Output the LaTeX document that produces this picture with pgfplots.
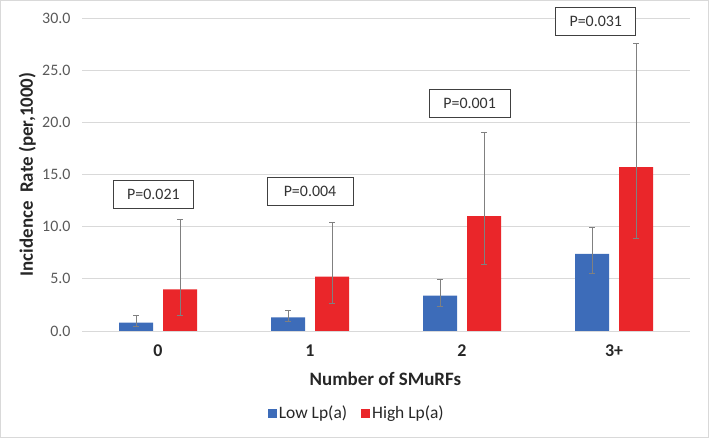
\documentclass[border=0pt]{standalone}
\usepackage{pgfplots}
\pgfplotsset{compat=1.18}
\usepackage{fontspec}
\setmainfont{Carlito}
\definecolor{barblue}{RGB}{61,108,185}
\definecolor{barred}{RGB}{234,38,42}
\definecolor{ticktxt}{RGB}{89,89,89}
\definecolor{gridc}{RGB}{217,217,217}
\definecolor{errc}{RGB}{128,128,128}
\begin{document}
\begin{tikzpicture}[x=1bp,y=1bp]
\draw[gridc, line width=1bp] (0.5,0.5) rectangle (708.5,437.5);
\begin{axis}[
  at={(82bp,107bp)}, anchor=south west,
  scale only axis, width=608bp, height=313bp,
  xmin=-0.5, xmax=3.5, ymin=0, ymax=30,
  clip=false,
  ybar=10bp, bar width=34bp,
  xtick={0,1,2,3}, xticklabels={0,1,2,3+},
  ytick={0,5,10,15,20,25,30},
  axis line style={draw=none},
  major tick length=0pt,
  ymajorgrids, grid style={gridc, line width=0.8bp},
  /pgf/number format/assume math mode=true,
  yticklabel={\pgfmathprintnumber[fixed,fixed zerofill,precision=1]{\tick}},
  yticklabel style={font=\fontsize{16}{18}\selectfont, text=ticktxt, xshift=-8bp},
  xticklabel style={font=\fontsize{18}{20}\selectfont\bfseries, text=black!85, yshift=-10bp},
  xlabel={Number of SMuRFs},
  xlabel style={font=\fontsize{19}{21}\selectfont\bfseries, text=black!85, at={(axis description cs:0.499,-0.152)}, anchor=center},
  ylabel={Incidence\ \ Rate (per,1000)},
  ylabel style={font=\fontsize{19}{21}\selectfont\bfseries, text=black!85, at={(axis description cs:-0.09,0.5)}, anchor=center, rotate=0},
  legend style={at={(axis description cs:0.452,-0.262)}, anchor=center, draw=none, fill=none,
    legend columns=2, font=\fontsize{17.5}{20}\selectfont, text=black!85,
    /tikz/every even column/.append style={column sep=12bp}},
  legend image code/.code={\fill[#1] (0bp,-4.5bp) rectangle (9bp,4.5bp);},
  error bars/error bar style={errc, line width=0.9bp},
  error bars/error mark options={rotate=90, mark size=3bp, errc, line width=0.9bp},
]
\addplot[fill=barblue, draw=none, error bars/.cd, y dir=both, y explicit]
  coordinates {
  (0,0.8) += (0,0.7) -= (0,0.4)
  (1,1.3) += (0,0.7) -= (0,0.4)
  (2,3.4) += (0,1.5) -= (0,1.0)
  (3,7.4) += (0,2.5) -= (0,1.9)
  };
\addplot[fill=barred, draw=none, error bars/.cd, y dir=both, y explicit]
  coordinates {
  (0,4.0) += (0,6.7) -= (0,2.5)
  (1,5.2) += (0,5.2) -= (0,2.6)
  (2,11.0) += (0,8.0) -= (0,4.6)
  (3,15.7) += (0,11.9) -= (0,6.8)
  };
\legend{Low Lp(a), High Lp(a)}
\tikzset{pbox/.style={draw=black!75, line width=0.8bp, fill=white, minimum height=28bp, inner xsep=0pt, font=\fontsize{16}{18}\selectfont, text=black!80}}
\node[pbox, minimum width=80bp] at (axis cs:-0.03,13.1) {P=0.021};
\node[pbox, minimum width=86bp] at (axis cs:1.0,13.4) {P=0.004};
\node[pbox, minimum width=81bp] at (axis cs:2.05,21.8) {P=0.001};
\node[pbox, minimum width=80bp] at (axis cs:2.88,29.7) {P=0.031};
\end{axis}
\end{tikzpicture}
\end{document}
